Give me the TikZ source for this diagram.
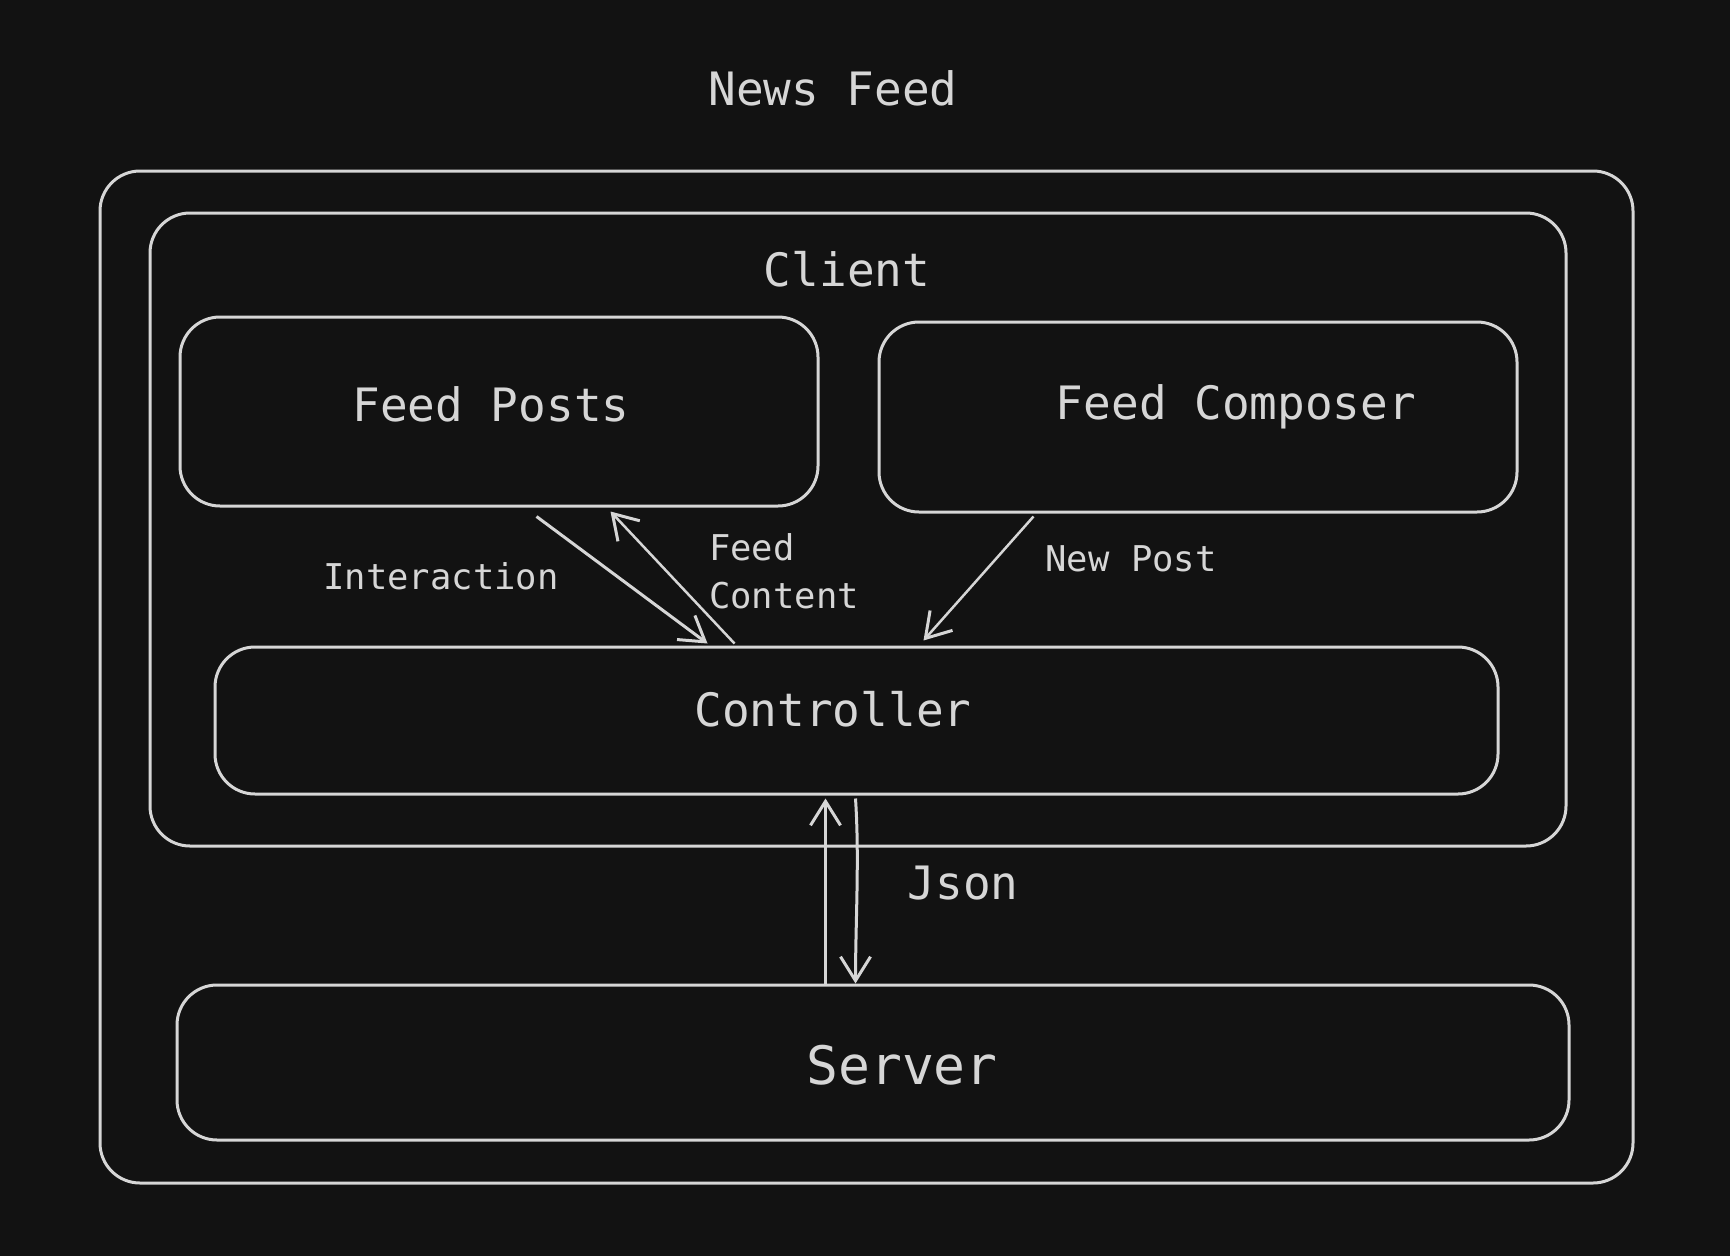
\documentclass[tikz,border=0pt]{standalone}
\usepackage{fontspec}
\setmainfont{DejaVu Sans Mono}
\usetikzlibrary{arrows.meta,calc}
\definecolor{bg}{HTML}{121212}
\definecolor{ink}{HTML}{D6D6D6}
\tikzset{
  box/.style={draw=ink, line width=3pt, rounded corners=40pt, inner sep=0pt},
  lbl/.style={text=ink, inner sep=0pt, font=\fontsize{46}{50}\selectfont},
  small/.style={text=ink, inner sep=0pt, font=\fontsize{35.5}{48}\selectfont},
  conn/.style={draw=ink, line width=3pt, -{Straight Barb[length=24pt,width=30pt,line width=3pt]}},
}
\begin{document}
\begin{tikzpicture}[x=1pt,y=-1pt]
\fill[bg] (0,0) rectangle (1730,1256);
\useasboundingbox (0,0) rectangle (1730,1256);
% boxes
\node[box, minimum width=1533pt, minimum height=1012pt] (outer) at (866.5,677) {};
\node[box, minimum width=1416pt, minimum height=633pt] (client) at (858,529.5) {};
\node[box, minimum width=638pt, minimum height=189pt] (fp) at (499,411.5) {};
\node[box, minimum width=638pt, minimum height=190pt] (fc) at (1198,417) {};
\node[box, minimum width=1283pt, minimum height=147pt] (ctrl) at (856.5,720.5) {};
\node[box, minimum width=1392pt, minimum height=155pt] (srv) at (873,1062.5) {};
% texts
\node[lbl] (title) at (833,88) {News Feed};
\node[lbl] (clientl) at (847,269) {Client};
\node[lbl] (fpl) at (491,404) {Feed Posts};
\node[lbl] (fcl) at (1236,407) {Feed Composer};
\node[lbl] (ctrll) at (833,709) {Controller};
\node[lbl, font=\fontsize{53}{58}\selectfont] (srvl) at (902,1065) {Server};
\node[small] (inter) at (441,576) {Interaction};
\node[small, align=left, anchor=west] (fcont) at (709,571) {Feed\\Content};
\node[small] (newp) at (1131,559) {New Post};
\node[lbl] (json) at (963,883) {Json};
% connector endpoints
\coordinate (a1) at ($(fp.south west)+(358,9)$);
\coordinate (a2) at ($(ctrl.north west)+(494,-2)$);
\coordinate (b1) at ($(ctrl.north west)+(521,-2)$);
\coordinate (b2) at ($(fp.south west)+(432,4)$);
\coordinate (c1) at ($(fc.south west)+(156,3)$);
\coordinate (c2) at ($(ctrl.north west)+(710,-5)$);
\coordinate (d1) at ($(srv.north west)+(650,0)$);
\coordinate (d2) at ($(ctrl.south west)+(612,3)$);
\coordinate (e1) at ($(ctrl.south west)+(642,3)$);
\coordinate (e2) at ($(srv.north west)+(680,0)$);
\draw[conn] (a1) -- (a2);
\draw[conn, line width=2.5pt] (b1) -- (b2);
\draw[conn, line width=2.5pt] (c1) -- (c2);
\draw[conn] (d1) -- (d2);
\draw[conn] (e1) .. controls ($(e1)+(4,60)$) and ($(e2)+(0,-60)$) .. (e2);
\end{tikzpicture}
\end{document}
